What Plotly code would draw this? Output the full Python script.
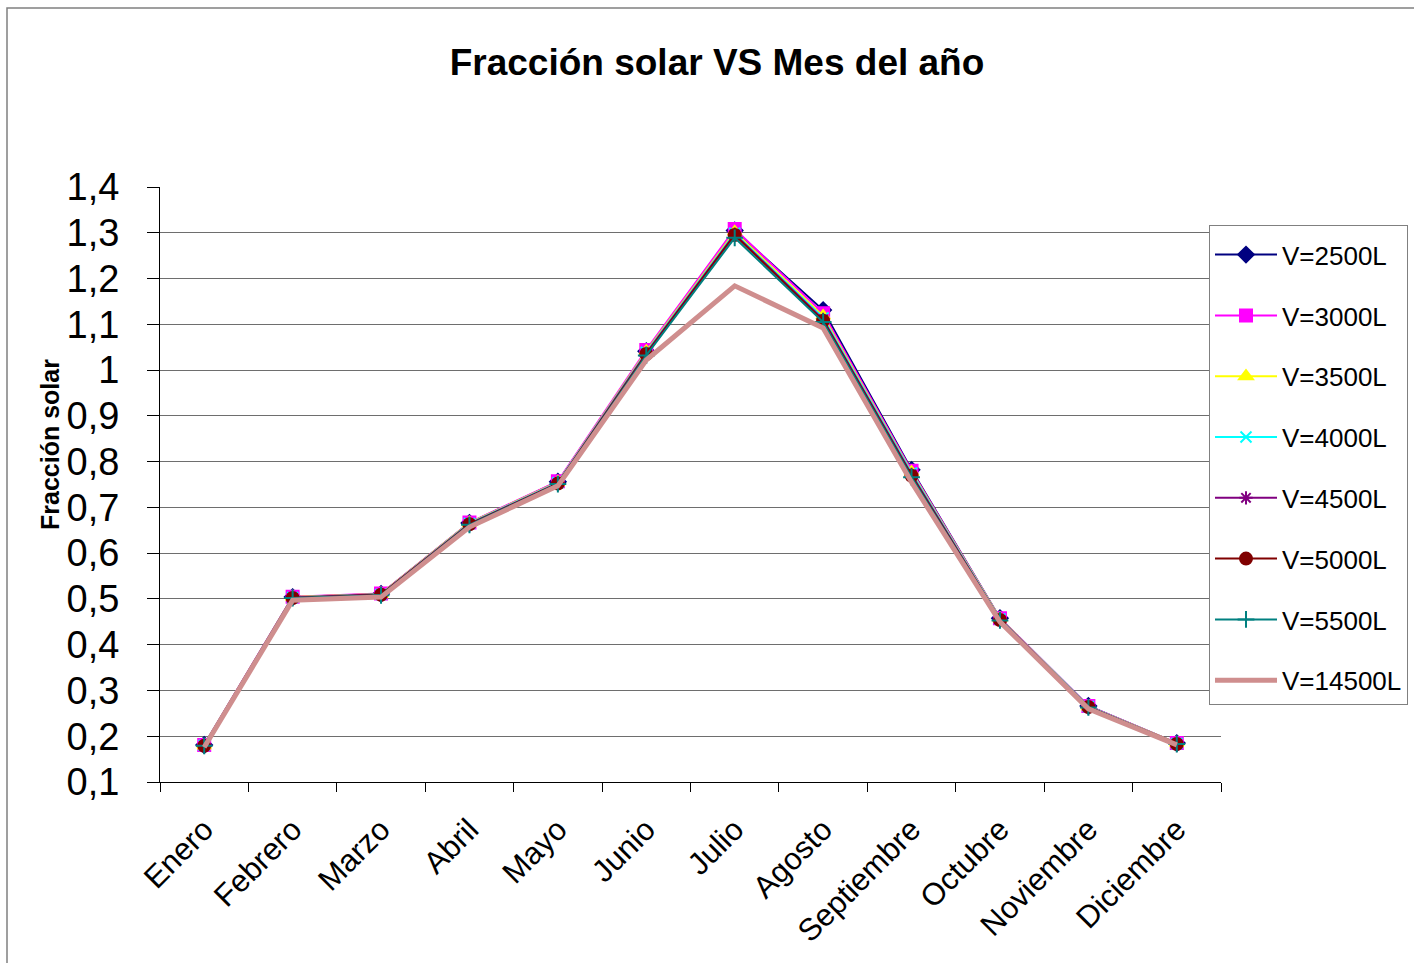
import plotly.graph_objects as go

months = ["Enero", "Febrero", "Marzo", "Abril", "Mayo", "Junio", "Julio",
          "Agosto", "Septiembre", "Octubre", "Noviembre", "Diciembre"]

v2500 = [0.181, 0.504, 0.511, 0.666, 0.756, 1.041, 1.305, 1.131, 0.782, 0.458, 0.266, 0.185]
v3000 = [0.181, 0.505, 0.512, 0.667, 0.757, 1.044, 1.308, 1.124, 0.780, 0.458, 0.266, 0.185]
v3500 = [0.180, 0.504, 0.511, 0.666, 0.755, 1.041, 1.302, 1.118, 0.777, 0.457, 0.265, 0.185]
v4000 = [0.180, 0.503, 0.510, 0.665, 0.754, 1.039, 1.299, 1.114, 0.775, 0.456, 0.265, 0.184]
v4500 = [0.180, 0.503, 0.510, 0.664, 0.753, 1.037, 1.297, 1.111, 0.772, 0.455, 0.264, 0.184]
v5000 = [0.179, 0.502, 0.509, 0.663, 0.752, 1.035, 1.295, 1.108, 0.769, 0.454, 0.264, 0.183]
v5500 = [0.179, 0.502, 0.508, 0.662, 0.751, 1.032, 1.289, 1.105, 0.766, 0.453, 0.263, 0.183]
v14500 = [0.176, 0.497, 0.504, 0.657, 0.747, 1.022, 1.184, 1.092, 0.755, 0.450, 0.260, 0.181]

series = [
    ("V=2500L", v2500, "#000080", "diamond", 12, 2),
    ("V=3000L", v3000, "#FF00FF", "square", 12, 2),
    ("V=3500L", v3500, "#FFFF00", "triangle-up", 12, 2),
    ("V=4000L", v4000, "#00FFFF", "x-thin-open", 11, 2),
    ("V=4500L", v4500, "#800080", "asterisk-open", 11, 2),
    ("V=5000L", v5000, "#800000", "circle", 12, 2),
    ("V=5500L", v5500, "#008080", "cross-thin-open", 12, 2),
]

fig = go.Figure()
for i, (name, vals, color, symbol, size, width) in enumerate(series):
    fig.add_trace(go.Scatter(
        x=months, y=vals, name=name, mode="lines+markers",
        line=dict(color=color, width=width),
        marker=dict(symbol=symbol, size=size, color=color,
                    line=dict(color=color, width=2)),
        legendgroup=f"g{i}",
    ))
fig.add_trace(go.Scatter(
    x=months, y=v14500, name="V=14500L", mode="lines",
    line=dict(color="#CF8E8E", width=5),
    legendgroup="g7",
))

# plot-area edges in pixels, used to place paper-referenced items
W, H = 1414, 963
L, R, T, B = 160, 1221, 187, 782
def px_x(p):
    return (p - L) / (R - L)
def px_y(p):
    return (B - p) / (B - T)

# outer chart frame
fig.add_shape(type="rect", xref="paper", yref="paper",
              x0=px_x(7), x1=px_x(1422), y0=px_y(970), y1=px_y(8),
              line=dict(color="#808080", width=1.5), fillcolor="rgba(0,0,0,0)",
              layer="below")

font_family = "Liberation Sans, Arial, sans-serif"

# vertical axis title
fig.add_annotation(text="<b>Fracción solar</b>", xref="paper", yref="paper",
                   x=px_x(50), y=px_y(445), xanchor="center", yanchor="middle",
                   textangle=-90, showarrow=False,
                   font=dict(size=25, family=font_family, color="black"))

fig.update_layout(
    width=W, height=H,
    margin=dict(l=L, r=W - R, t=T, b=H - B, autoexpand=False),
    paper_bgcolor="white", plot_bgcolor="white",
    separators=", ",
    font=dict(family=font_family, color="black"),
    title=dict(text="<b>Fracción solar VS Mes del año</b>",
               font=dict(size=37, family=font_family, color="black"),
               x=717 / W, xanchor="center", xref="container",
               y=1 - 62 / H, yanchor="middle"),
    xaxis=dict(
        type="category", tickson="boundaries",
        ticks="outside", ticklen=9, tickcolor="black",
        showline=True, linecolor="black", linewidth=1,
        showgrid=False, tickangle=-45,
        tickfont=dict(size=31, family=font_family, color="black"),
        ticklabelstandoff=16,
        range=[-0.5, 11.5],
    ),
    yaxis=dict(
        range=[0.1, 1.4], dtick=0.1, tick0=0.1,
        ticks="outside", ticklen=12, tickcolor="black",
        showline=True, linecolor="black", linewidth=1,
        showgrid=True, gridcolor="#6e6e6e", gridwidth=1,
        tickfont=dict(size=38, family=font_family, color="black"),
        ticklabelstandoff=20,
        zeroline=False,
    ),
    legend=dict(
        xref="container", yref="container",
        x=1209 / W, y=1 - 225 / H, xanchor="left", yanchor="top",
        bordercolor="#808080", borderwidth=1, bgcolor="white",
        font=dict(size=26, family=font_family, color="black"),
        title=dict(text=" ", font=dict(size=4)),
        tracegroupgap=24, itemwidth=62,
    ),
    showlegend=True,
)

fig.write_html("out.html")
